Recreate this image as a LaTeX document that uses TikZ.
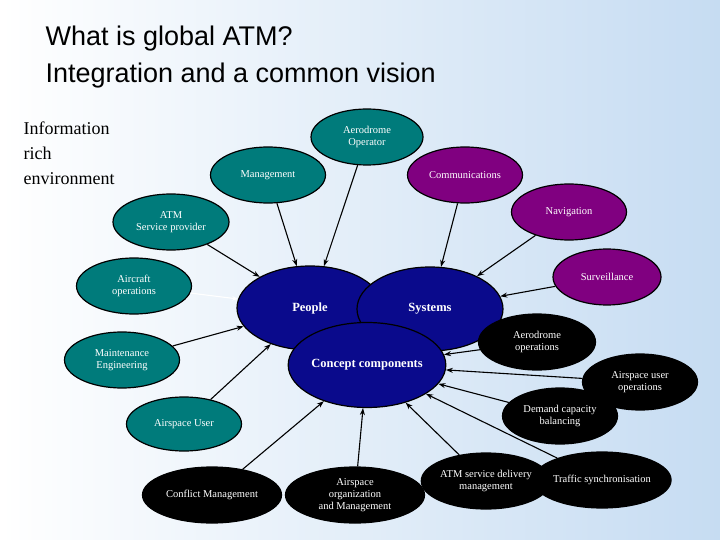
\documentclass[tikz,border=0pt]{standalone}
\usepackage{fontspec}
\setmainfont{Liberation Serif}
\newfontfamily\titlefont{Liberation Sans}
\newfontfamily\serifb{Liberation Serif}
\usetikzlibrary{shapes.geometric,arrows.meta}
\definecolor{teal1}{HTML}{007B7B}
\definecolor{purp}{HTML}{800080}
\definecolor{navyb}{HTML}{0A0A8C}
\definecolor{bgb}{HTML}{C6DCF2}
\tikzset{
 el/.style={ellipse,draw=black,line width=1.2pt,text=white,align=center,inner sep=0pt,font=\fontsize{10.5}{12}\selectfont,minimum width=115pt,minimum height=56pt},
 tl/.style={el,fill=teal1},
 pu/.style={el,fill=purp},
 bk/.style={el,fill=black},
 big/.style={el,fill=navyb,font=\bfseries\fontsize{12.5}{14}\selectfont,minimum width=146pt,minimum height=84pt},
 ar/.style={-{Stealth[length=7pt,width=5pt]},line width=1.1pt},
}
\begin{document}
\begin{tikzpicture}[x=1pt,y=-1pt]
\shade[left color=white,right color=bgb] (0,0) rectangle (720,540);
\useasboundingbox (0,0) rectangle (720,540);
\node[anchor=north west,align=left,font=\titlefont\fontsize{27}{37}\selectfont] (title) at (42,22) {What is global ATM?\\Integration and a common vision};
\node[anchor=north west,align=left,font=\serifb\fontsize{18}{25}\selectfont] (info) at (20,118) {Information\\rich\\environment};
\node[big] (people) at (310,308) {People};
\node[big] (systems) at (430,309) {Systems};
\node[big,minimum width=147pt,minimum height=85pt] (concept) at (367,365) {Concept components};
\node[tl,minimum width=112pt] (aop) at (367,137) {Aerodrome\\Operator};
\node[tl] (mgmt) at (268,175) {Management};
\node[pu] (comm) at (465,175) {Communications};
\node[pu] (nav) at (569,212) {Navigation};
\node[tl,minimum width=116pt] (atmsp) at (171,222) {ATM\\Service provider};
\node[tl] (acops) at (134,286) {Aircraft\\operations};
\node[pu,minimum width=108pt] (surv) at (607,277) {Surveillance};
\node[bk,minimum width=117pt] (adops) at (537,342) {Aerodrome\\operations};
\node[bk] (auops) at (640,382) {Airspace user\\operations};
\node[bk] (dcb) at (560,416) {Demand capacity\\balancing};
\node[bk] (atmsd) at (486,481) {ATM service delivery\\management};
\node[bk] (traffic) at (602,480) {Traffic synchronisation};
\node[bk,minimum width=139pt] (asorg) at (355,495) {Airspace\\organization\\and Management};
\node[bk,minimum width=139pt] (conflict) at (212,495) {Conflict Management};
\node[tl,minimum height=54pt] (auser) at (184,424) {Airspace User};
\node[tl] (maint) at (122,360) {Maintenance\\Engineering};
\draw[ar] (mgmt) -- (people);
\draw[ar] (aop) -- (people);
\draw[ar] (atmsp) -- (people);
\draw[white,line width=1.1pt,-{Stealth[length=6pt]}] (acops) -- (people);
\draw[ar] (comm) -- (systems);
\draw[ar] (nav) -- (systems);
\draw[ar] (surv) -- (systems);
\draw[ar] (maint) -- (people);
\draw[ar] (auser) -- (people);
\draw[ar] (conflict) -- (concept);
\draw[ar] (asorg) -- (concept);
\draw[ar] (atmsd) -- (concept);
\draw[ar] (traffic) -- (concept);
\draw[ar] (dcb) -- (concept);
\draw[ar] (auops) -- (concept);
\draw[ar] (adops) -- (concept);
\end{tikzpicture}
\end{document}
